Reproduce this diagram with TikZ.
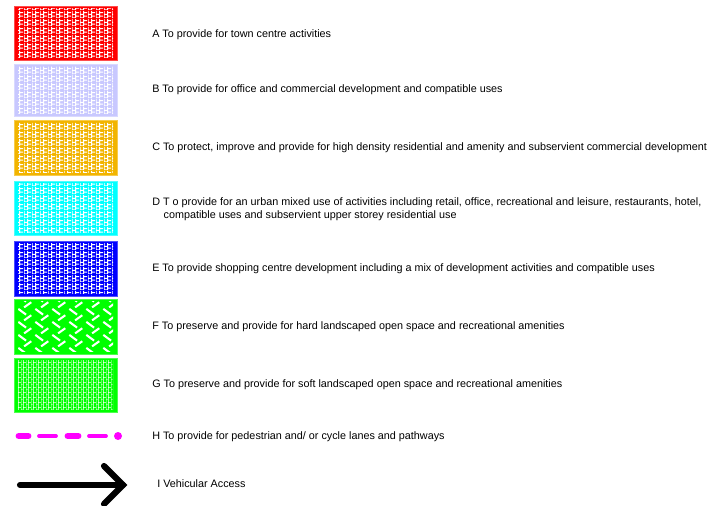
\documentclass[tikz,border=0pt]{standalone}
\usepackage{fontspec}
\setmainfont{Liberation Sans}
\usetikzlibrary{patterns}

\definecolor{zoneA}{RGB}{255,0,0}
\definecolor{zoneB}{RGB}{200,200,255}
\definecolor{zoneC}{RGB}{242,180,0}
\definecolor{zoneD}{RGB}{0,255,255}
\definecolor{zoneE}{RGB}{0,0,255}
\definecolor{zoneF}{RGB}{0,255,0}
\definecolor{zoneG}{RGB}{0,255,0}
\definecolor{pathpink}{RGB}{255,0,255}

% brick grid for the zone boxes
\pgfdeclarepatternformonly{brickgrid}{\pgfpointorigin}{\pgfqpoint{6pt}{6pt}}{\pgfqpoint{6pt}{6pt}}{
  \pgfsetlinewidth{0.85pt}
  \pgfpathmoveto{\pgfqpoint{0pt}{0pt}}\pgfpathlineto{\pgfqpoint{0pt}{6pt}}
  \pgfpathmoveto{\pgfqpoint{3pt}{0pt}}\pgfpathlineto{\pgfqpoint{3pt}{6pt}}
  \pgfpathmoveto{\pgfqpoint{0pt}{0pt}}\pgfpathlineto{\pgfqpoint{3pt}{0pt}}
  \pgfpathmoveto{\pgfqpoint{0pt}{3pt}}\pgfpathlineto{\pgfqpoint{3pt}{3pt}}
  \pgfpathmoveto{\pgfqpoint{3pt}{1.5pt}}\pgfpathlineto{\pgfqpoint{6pt}{1.5pt}}
  \pgfpathmoveto{\pgfqpoint{3pt}{4.5pt}}\pgfpathlineto{\pgfqpoint{6pt}{4.5pt}}
  \pgfusepath{stroke}
}
% finer grid for soft landscape
\pgfdeclarepatternformonly{finegrid}{\pgfpointorigin}{\pgfqpoint{4pt}{4pt}}{\pgfqpoint{4pt}{4pt}}{
  \pgfsetlinewidth{0.55pt}
  \pgfpathmoveto{\pgfqpoint{0pt}{0pt}}\pgfpathlineto{\pgfqpoint{0pt}{4pt}}
  \pgfpathmoveto{\pgfqpoint{2pt}{0pt}}\pgfpathlineto{\pgfqpoint{2pt}{4pt}}
  \pgfpathmoveto{\pgfqpoint{0pt}{0pt}}\pgfpathlineto{\pgfqpoint{2pt}{0pt}}
  \pgfpathmoveto{\pgfqpoint{2pt}{2pt}}\pgfpathlineto{\pgfqpoint{4pt}{2pt}}
  \pgfusepath{stroke}
}
% stepped diagonals for hard landscape
\pgfdeclarepatternformonly{herring}{\pgfpointorigin}{\pgfqpoint{13pt}{10pt}}{\pgfqpoint{13pt}{10pt}}{
  \pgfsetlinewidth{1.6pt}
  \pgfpathmoveto{\pgfqpoint{1pt}{9.5pt}}\pgfpathlineto{\pgfqpoint{7pt}{5pt}}
  \pgfpathmoveto{\pgfqpoint{5.5pt}{0.5pt}}\pgfpathlineto{\pgfqpoint{11pt}{4.5pt}}
  \pgfusepath{stroke}
}

\tikzset{
  legendtext/.style={anchor=west, font=\fontsize{8.1}{9.6}\selectfont, inner sep=0pt, align=left},
  zonebox/.style={fill=#1, draw=#1!70!white, line width=0.4pt},
  bigdash/.style={pathpink, line width=5.2pt, line cap=round},
  smalldash/.style={pathpink, line width=2.8pt, line cap=round},
}

\begin{document}
\begin{tikzpicture}[x=0.75pt, y=-0.75pt]
  \useasboundingbox (0,0) rectangle (715,506);

  % zone boxes with their patterns
  \foreach \id/\col/\pat/\top/\bot in {A/zoneA/brickgrid/6/60, B/zoneB/brickgrid/64/116,
      C/zoneC/brickgrid/120/175, D/zoneD/brickgrid/181/235, E/zoneE/brickgrid/241/296,
      F/zoneF/herring/299/354, G/zoneG/finegrid/358/412} {
    \node[zonebox=\col, minimum width=77pt, minimum height={(\bot-\top)*0.75pt}, inner sep=0pt, anchor=north west]
      (box\id) at (14,\top) {};
    \fill[pattern=\pat, pattern color=white] ([shift={(4,3)}]box\id.north west) rectangle ([shift={(-4,-3)}]box\id.south east);
  }

  % labels
  \node[legendtext] (textA) at (152,35) {A To provide for town centre activities};
  \node[legendtext] (textB) at (152,90) {B To provide for office and commercial development and compatible uses};
  \node[legendtext] (textC) at (152,148) {C To protect, improve and provide for high density residential and amenity and subservient commercial development};
  \node[legendtext] (textD) at (152,209) {D T o provide for an urban mixed use of activities including retail, office, recreational and leisure, restaurants, hotel,\\
    \hspace*{1.05em}compatible uses and subservient upper storey residential use};
  \node[legendtext] (textE) at (152,269) {E To provide shopping centre development including a mix of development activities and compatible uses};
  \node[legendtext] (textF) at (152,327) {F To preserve and provide for hard landscaped open space and recreational amenities};
  \node[legendtext] (textG) at (152,385) {G To preserve and provide for soft landscaped open space and recreational amenities};
  \node[legendtext] (textH) at (152,437) {H To provide for pedestrian and/ or cycle lanes and pathways};
  \node[legendtext] (textI) at (157,484) {I Vehicular Access};

  % pedestrian / cycle line
  \draw[bigdash] (19,436) -- (28,436);
  \draw[smalldash] (39,436) -- (56,436);
  \draw[bigdash] (68,436) -- (78,436);
  \draw[smalldash] (89,436) -- (106,436);
  \fill[pathpink] (118,436) circle (4);

  % vehicular access arrow
  \coordinate (arrowtail) at (20,485);
  \coordinate (arrowtip) at (123,485);
  \draw[line width=4.6pt, line cap=round, line join=round] (arrowtail) -- (arrowtip);
  \draw[line width=4.6pt, line cap=round, line join=miter] (104,466) -- (arrowtip) -- (104,504);
\end{tikzpicture}
\end{document}
